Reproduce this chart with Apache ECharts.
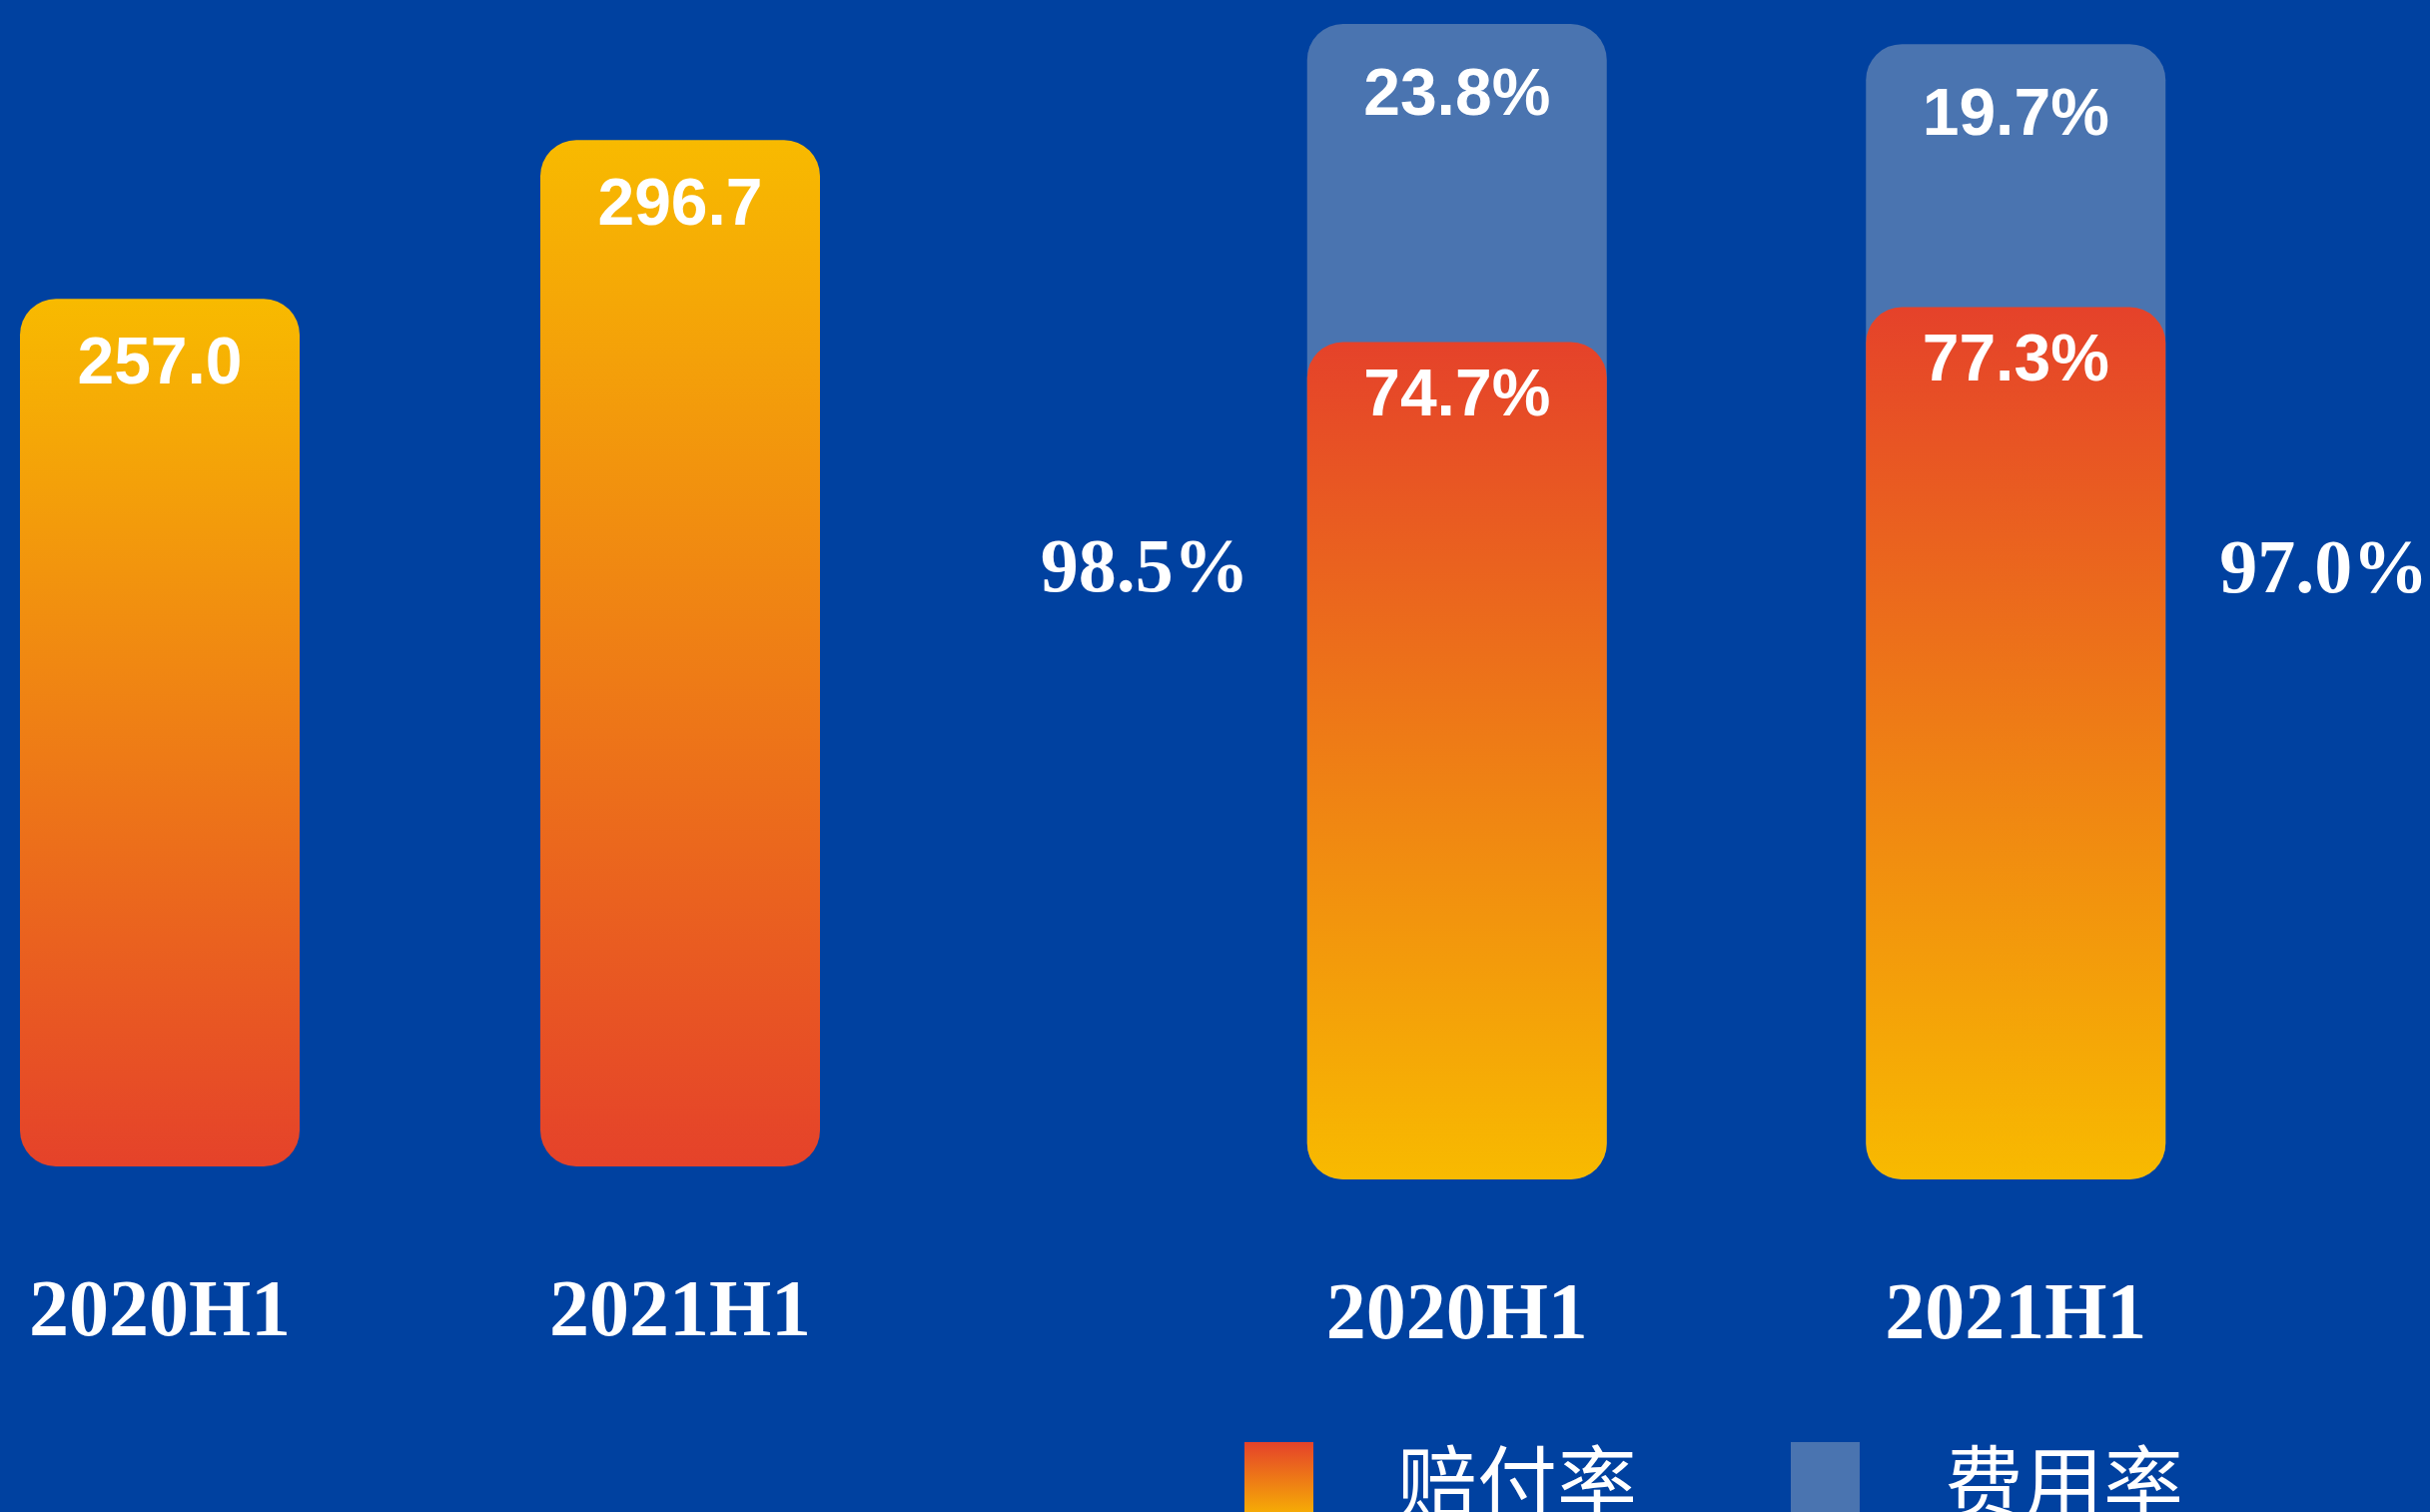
<!DOCTYPE html>
<html>
<head>
<meta charset="utf-8">
<script src="https://cdn.jsdelivr.net/npm/echarts@6/dist/echarts.min.js"></script>
<style>
html,body{margin:0;padding:0;background:#0041A0;}
#c{width:2433px;height:1514px;}
</style>
</head>
<body>
<div id="c"></div>
<script>
// ---- data ----
const leftCategories = ['2020H1', '2021H1'];
const premiumValues = [257.0, 296.7];

const rightCategories = ['2020H1', '2021H1'];
const lossRatio = [74.7, 77.3];      // 赔付率
const expenseRatio = [23.8, 19.7];   // 费用率
const combinedRatio = [98.5, 97.0];  // 综合成本率

const legendNames = ['赔付率', '费用率'];

// ---- styles ----
const BG = '#0041A0';
const BLUE = '#4A74B0';
const RED = '#E5422A';
const YELLOW = '#F8BA00';
const SANS = '"Liberation Sans", Arial, Helvetica, sans-serif';
const SERIF = '"Liberation Serif", "Times New Roman", serif';
const CJK = '"Noto Sans CJK SC", sans-serif';
const R = 36;

function grad(top, bottom) {
  return new echarts.graphic.LinearGradient(0, 0, 0, 1, [
    { offset: 0, color: top },
    { offset: 1, color: bottom }
  ]);
}

const valueLabel = {
  show: true,
  position: 'insideTop',
  color: '#fff',
  fontFamily: SANS,
  fontWeight: 'bold',
  fontSize: 66
};

const catLabel = { color: '#fff', fontFamily: SERIF, fontWeight: 'bold', fontSize: 80 };

const chart = echarts.init(document.getElementById('c'), null, { renderer: 'canvas' });

const option = {
  backgroundColor: BG,
  animation: false,
  grid: [
    { left: 160, top: 127, width: 521, height: 1041, containLabel: false },
    { left: 1179, top: 4, width: 1119, height: 1177, containLabel: false }
  ],
  xAxis: [
    {
      type: 'category', gridIndex: 0, data: leftCategories, boundaryGap: false,
      axisLine: { show: false }, axisTick: { show: false }, splitLine: { show: false },
      axisLabel: Object.assign({ margin: 108 }, catLabel)
    },
    {
      type: 'category', gridIndex: 1, data: rightCategories,
      axisLine: { show: false }, axisTick: { show: false },
      axisLabel: Object.assign({ margin: 98 }, catLabel)
    }
  ],
  yAxis: [
    { type: 'value', gridIndex: 0, min: 40, max: 300, show: false, splitLine: { show: false } },
    { type: 'value', gridIndex: 1, min: 12, max: 100, show: false, splitLine: { show: false } }
  ],
  legend: {
    data: legendNames,
    left: 1241,
    top: 1439,
    icon: 'rect',
    itemWidth: 69,
    itemHeight: 80,
    itemGap: 154,
    selectedMode: false,
    textStyle: {
      color: '#fff',
      fontFamily: CJK,
      fontSize: 80,
      lineHeight: 80,
      padding: [0, 0, 0, 79]
    }
  },
  series: [
    {
      name: '保费',
      type: 'bar',
      xAxisIndex: 0, yAxisIndex: 0,
      data: premiumValues,
      barWidth: 280,
      itemStyle: { color: grad(YELLOW, RED), borderRadius: R },
      label: Object.assign({}, valueLabel, {
        distance: 34,
        formatter: p => premiumValues[p.dataIndex].toFixed(1)
      })
    },
    {
      name: '费用率',
      type: 'bar',
      xAxisIndex: 1, yAxisIndex: 1,
      data: lossRatio.map((v, i) => v + expenseRatio[i]),
      barWidth: 300,
      barGap: '-100%',
      itemStyle: { color: BLUE, borderRadius: R },
      label: Object.assign({}, valueLabel, {
        distance: 40,
        formatter: p => expenseRatio[p.dataIndex].toFixed(1) + '%'
      })
    },
    {
      name: '赔付率',
      type: 'bar',
      xAxisIndex: 1, yAxisIndex: 1,
      data: lossRatio,
      barWidth: 300,
      barGap: '-100%',
      itemStyle: { color: grad(RED, YELLOW), borderRadius: R },
      label: Object.assign({}, valueLabel, {
        distance: 22,
        formatter: p => lossRatio[p.dataIndex].toFixed(1) + '%'
      })
    },
    {
      name: '综合成本率',
      type: 'bar',
      xAxisIndex: 1, yAxisIndex: 1,
      barWidth: 300,
      barGap: '-100%',
      silent: true,
      itemStyle: { color: 'rgba(0,0,0,0)' },
      data: combinedRatio.map((v, i) => ({
        value: v,
        label: i === 0
          ? { position: 'left', offset: [0, -30] }
          : { position: 'right', offset: [-4, -39] }
      })),
      label: {
        show: true,
        distance: 58,
        color: '#fff',
        fontFamily: SERIF,
        fontWeight: 'bold',
        fontSize: 76,
        formatter: p => combinedRatio[p.dataIndex].toFixed(1) + '%'
      }
    }
  ]
};

chart.setOption(option);
</script>
</body>
</html>
